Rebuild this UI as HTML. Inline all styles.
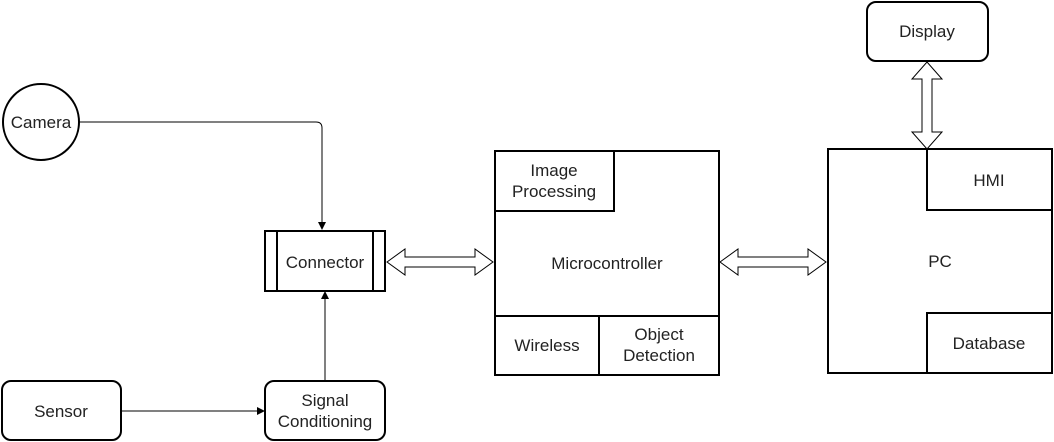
<!DOCTYPE html>
<html><head><style>
body{margin:0;background:#fff;}
svg{display:block;font-family:"Liberation Sans",sans-serif;font-size:17px;}
</style></head><body>
<svg width="1054" height="442" viewBox="0 0 1054 442" xmlns="http://www.w3.org/2000/svg">
<g fill="#fff" stroke="#000" stroke-width="2">
<circle cx="41" cy="122" r="38"/>
<rect x="2" y="381" width="119" height="59" rx="9"/>
<rect x="265" y="381" width="120" height="59" rx="9"/>
<rect x="867" y="2" width="121" height="59" rx="9"/>
<rect x="265" y="231" width="120" height="60"/>
<line x1="277" y1="231" x2="277" y2="291"/>
<line x1="373" y1="231" x2="373" y2="291"/>
<rect x="495" y="151" width="224" height="224"/>
<rect x="495" y="151" width="119" height="60"/>
<rect x="495" y="316" width="104" height="59"/>
<rect x="599" y="316" width="120" height="59"/>
<rect x="828" y="149" width="224" height="224"/>
<rect x="927" y="149" width="125" height="61"/>
<rect x="927" y="313" width="125" height="60"/>
</g>
<g fill="none" stroke="#000" stroke-width="1">
<path d="M79 122 H316 Q322 122 322 128 V224"/>
<path d="M121 411 H258"/>
<path d="M325 381 V297"/>
</g>
<g fill="#000">
<path d="M318 222 L326 222 L322 230 Z"/>
<path d="M257 407 L257 415 L265 411 Z"/>
<path d="M321 299 L329 299 L325 291 Z"/>
</g>
<g fill="#fff" stroke="#000" stroke-width="1">
<path d="M387 262 L405 249 V257 H475 V249 L493 262 L475 275 V267 H405 V275 Z"/>
<path d="M720 262 L738 249 V257 H808 V249 L826 262 L808 275 V267 H738 V275 Z"/>
<path d="M927 62 L942 79 H932 V132 H942 L927 149 L912 132 H922 V79 H912 Z"/>
</g>
<g fill="#222" text-anchor="middle">
<text x="41" y="128">Camera</text>
<text x="61" y="417">Sensor</text>
<text x="325" y="406">Signal</text>
<text x="325" y="427">Conditioning</text>
<text x="927" y="37">Display</text>
<text x="325" y="268">Connector</text>
<text x="554" y="176">Image</text>
<text x="554" y="197">Processing</text>
<text x="607" y="269">Microcontroller</text>
<text x="547" y="351">Wireless</text>
<text x="659" y="340">Object</text>
<text x="659" y="361">Detection</text>
<text x="940" y="267">PC</text>
<text x="989" y="186">HMI</text>
<text x="989" y="349">Database</text>
</g>
</svg>
</body></html>
